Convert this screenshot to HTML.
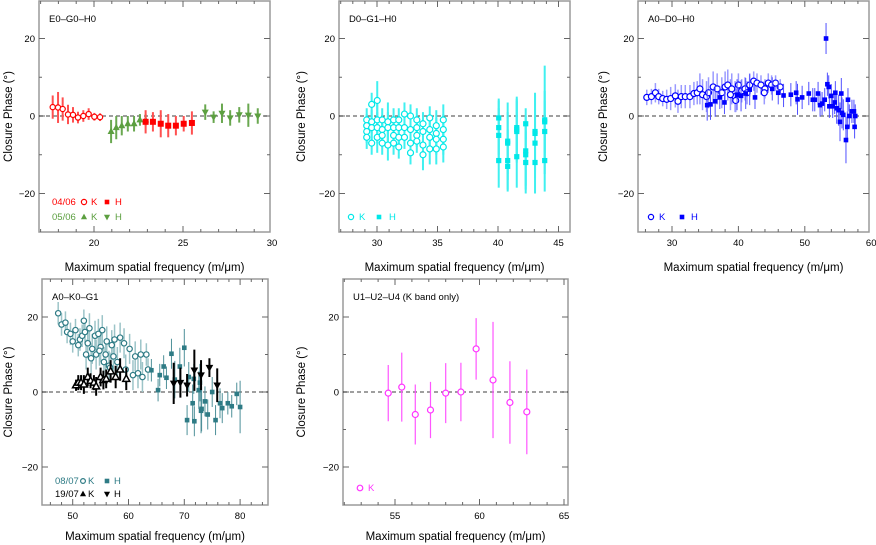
<!DOCTYPE html>
<html><head><meta charset="utf-8"><style>
html,body{margin:0;padding:0;background:#fff;width:876px;height:545px;overflow:hidden}
svg{display:block;font-family:"Liberation Sans",sans-serif}
</style></head><body>
<svg id="c" width="876" height="545" viewBox="0 0 876 545"></svg>
<script>
// ---- Panel 1 data (E0-G0-H0)
const p1KredX=[17.68,17.98,18.24,18.54,18.82,19.1,19.4,19.7,20.02,20.34];
const p1KredY=[2.3,2.2,1.8,0.4,0.3,-0.4,0,0.5,-0.2,-0.3];
const p1KredE=[3,4,3,2.5,2,1.5,1.5,1.5,1,1];
const p1HredX=[22.9,23.31,23.75,24.17,24.6,25.04,25.5];
const p1HredY=[-1.5,-1.5,-2,-2.5,-2.5,-2,-1.8];
const p1HredE=[3,2.5,3.5,3,2.5,2,3];
const p1KgrnX=[20.96,21.25,21.56,21.9,22.25,22.58,22.9];
const p1KgrnY=[-4,-3,-2.5,-2,-2,-1,-1];
const p1KgrnE=[3,3,2.5,2,2,1.5,1.5];
const p1HgrnX=[26.25,26.72,27.19,27.65,28.16,28.67,29.2];
const p1HgrnY=[1,-0.3,0.7,-0.5,0.3,0.2,0];
const p1HgrnE=[2,1.5,2.5,2,2,3,2];
// ---- Panel 2 data (D0-G1-H0)
const p2KX=[29.15,29.15,29.15,29.15,29.56,29.56,29.56,29.56,30.02,30.02,30.02,30.02,30.43,30.43,30.43,30.43,30.9,30.9,30.9,31.37,31.37,31.37,31.37,31.8,31.8,31.8,31.8,32.27,32.27,32.27,32.77,32.77,32.77,32.77,33.29,33.29,33.29,33.29,33.8,33.8,33.8,33.8,34.36,34.36,34.36,34.36,34.9,34.9,34.9,34.9,35.48,35.48,35.48,35.48];
const p2KY=[-1,-2.5,-4,-5.5,3,-1.5,-3,-7,4,-1,-3,-5.5,-1,-3.5,-5,-7,-1.5,-3,-7.5,-1,-3,-5,-7,-1,-3,-5.5,-8,0.5,-3,-5.5,0,-3.5,-7,-9.5,-1,-3,-5,-6.5,-2,-4,-7.5,-10,-0.5,-3.5,-5.5,-8.5,-2.5,-4.5,-6,-8.5,-1,-3.5,-6,-8];
const p2KE=[3,3,3,3,3,3,3,3,5,4,4,4,3,3,3,3,5,4,4,3,3,3,3,3,3,3,3,3,3,3,3,3,3,3,3,3,3,3,3,3,3,4,3,3,3,4,4,4,4,4,4,4,4,4];
const p2HX=[40.06,40.06,40.06,40.06,40.8,40.8,40.8,40.8,41.55,41.55,41.55,41.55,42.29,42.29,42.29,42.29,43.06,43.06,43.06,43.06,43.86,43.86,43.86,43.86];
const p2HY=[-0.5,-3,-5,-11.5,-6.5,-7,-11.5,-13,-3,-3.5,-4,-10.5,-2,-9,-10,-12,-4,-4.5,-7,-12,-1,-1.5,-4,-11.5];
const p2HE=[5,7,7,7,10,8,8,6,8,8,8,8,4,9,9,8,10,10,9,8,14,8,8,8];
// ---- Panel 3 data (A0-D0-H0)
const p3KX=[26.2,26.9,27.5,28,28.6,29.2,29.8,30.5,30.9,31.4,32,32.7,33.3,33.8,34.2,34.6,35.2,35.5,36.2,36.8,37.5,38,38.4,39,39.5,40,40.5,41,41.7,42.3,42.8,43.4,44,44.5,45,45.6,46.3,38.8,39.6,41.3,43.9];
const p3KY=[4.8,5,6,5,4.5,4.3,4.5,5.2,3.8,5,5,5,5.8,6,7,5.5,5,6,7.5,7,6,7.5,8,7,5,8,6.5,7,8,9,8.5,8,7,8.5,8,8.5,7.5,5.5,4,6,6];
const p3KE=[2,2,2.5,2,2,2.5,3,3,3,3,3,3,3,3,4,4,4,4,4,4,4,4,4,4,4,3,3,3,3,2.5,2.5,2.5,2.5,2.5,2.5,2,2,4,3,3,3];
const p3HX=[35.3,35.8,36.5,37.2,37.9,39.8,40.4,41.1,41.7,42.5,45.1,46,46.8,47.9,48.7,48.9,49.6,50.6,51.2,51.5,52,52.3,52.6,53,53.2,53.4,53.6,53.7,54,54.2,54.5,54.6,54.8,55.1,55.3,55.5,55.6,55.8,56.2,56.4,56.5,56.7,57.1,57.4,57.5,57.6];
const p3HY=[2.8,3,3.8,4.8,3.5,5.5,5.2,5.8,6.8,4.8,7,6,5.3,5.5,6,4.3,4.8,5.8,4.2,4.2,5.8,2.8,3.2,4.2,20,8.2,7.5,2.5,5.2,2.5,3.5,6,2,1.5,-1.5,5.8,0.8,0.3,-6.2,-2.8,4.2,0,1.2,1.2,-2.8,0];
const p3HE=[4,4,4,3,3,4,4,4,4,3,3,3,3,3,3,4,3,3,3,3,3,3,3,3,4,3,3,3,3,3,3,3,4,4,5,4,4,4,6,4,3,3,3,3,3,3];
// ---- Panel 4 data (A0-K0-G1)
const p4KX=[47.4,48,48.7,49,49.6,50,50.5,51,51.3,51.7,52,52.2,52.4,52.7,53,53.3,53.5,54,54.2,54.6,55,55.3,55.6,55.9,56.1,56.5,57,57.3,57.5,58,58.5,59.2,59.5,60.2,61.2,61.7,62.2,62.5,63.2,63.5,60.8,54.8,56.7];
const p4KY=[21,18,18.5,16,15.5,13.5,16.5,12.5,14,15,19,16,10,13,17,9,11.5,15,10,15.5,12,16.5,8,10,13.5,7,12.5,9.5,14,8,14.5,13,6,11.5,9.5,5,10,4,10,6,4.5,11,6.5];
const p4KE=[3,3,3,3,3,3,3,3,3,3,3,3,4,4,4,4,4,4,4,4,4,4,4,4,4,4,4,4,4,4,4,4,4,4,4,4,4,4,3,3,4,4,4];
const p4HX=[64.1,65.3,65.6,66.3,66.8,67.7,68.3,69.2,70,70.5,70.8,71.5,71.7,71.8,72.6,72.8,73,73.1,73.7,74.2,75,75.6,76.4,76.8,77.8,78.5,79.4,80];
const p4HY=[5.8,0.5,4.5,6.8,3.8,10.2,3.3,6.8,11.8,-7.5,4,-3,3.5,-7.8,0.5,2.5,-5,-4.5,-2.5,-6,0,-7.5,-3,-4.3,-3,-3.8,-0.5,-4];
const p4HE=[3,3,3,3,3,4,5,5,5,4,4,5,4,4,5,5,6,6,4,4,4,4,4,4,3,3,3,7];
const p4K2X=[50.6,51,51.5,52,52.7,53.2,53.8,54.2,55,55.5,56,56.8,57.7,58.5,59.6];
const p4K2Y=[1.8,2.5,2.5,2,4,3,2.5,1.5,4,3.2,3.5,5.5,4,6,3.5];
const p4K2E=[1.5,2,2,2.5,2.5,2,2,2.5,2.5,2.5,2.5,3,3,3,3];
const p4H2X=[68.1,69.3,70.5,71.8,73,74.5,75.9];
const p4H2Y=[2.3,2.5,1.8,5.8,4.5,6.5,1.8];
const p4H2E=[5.5,4,3,5.5,4,2.5,4.5];
// ---- Panel 5 data (U1-U2-U4)
const p5X=[54.6,55.4,56.2,57.1,58,58.9,59.8,60.8,61.8,62.8];
const p5Y=[-0.3,1.3,-6,-4.8,-0.3,0,11.5,3.2,-2.8,-5.3];
const p5E=[7.5,9.2,8,7.5,8,7.8,8.2,15.5,11,11.3];

const NS='http://www.w3.org/2000/svg';
const svg=document.getElementById('c');
function el(tag,attrs,parent,txt){const e=document.createElementNS(NS,tag);for(const k in attrs)e.setAttribute(k,attrs[k]);if(txt!==undefined)e.textContent=txt;(parent||svg).appendChild(e);return e;}

function panel(cfg){
  const g=el('g',{});
  
  
  const L=cfg.L,R=cfg.R,T=cfg.T,B=cfg.B;
  const xs=v=>cfg.xpx+(v-cfg.xv)*cfg.xppu;
  const ys=v=>cfg.y0+(-v)*cfg.yppu;
  cfg.xs=xs;cfg.ys=ys;
  const fr=el('rect',{x:L,y:T,width:R-L,height:B-T,fill:'none',stroke:'#9a9a9a','stroke-width':1.5},g);
  
  
  for(let v=-30;v<=30;v+=10){const y=ys(v);if(y<T+1||y>B-1)continue;const len=(v%20===0)?6:3;
    el('line',{x1:L,x2:L+len,y1:y,y2:y,stroke:'#666','stroke-width':1},g);
    el('line',{x1:R,x2:R-len,y1:y,y2:y,stroke:'#666','stroke-width':1},g);
    if(v%20===0){const t=el('text',{x:L-4,y:y+3.5,'font-size':9.5,'text-anchor':'end',fill:'#000'},g,v===0?'0':(v<0?'\u2212'+(-v):''+v));
      }
  }
  const mi0=Math.ceil(cfg.xmin/cfg.minor);
  for(let k=mi0;k*cfg.minor<=cfg.xmax+1e-6;k++){const v=k*cfg.minor;const x=xs(v);if(x<L+1||x>R-1)continue;
    const maj=Math.abs(v/cfg.major-Math.round(v/cfg.major))<1e-6;const len=maj?6:3;
    el('line',{x1:x,x2:x,y1:B,y2:B-len,stroke:'#666','stroke-width':1},g);
    el('line',{x1:x,x2:x,y1:T,y2:T+len,stroke:'#666','stroke-width':1},g);
  }
  const ma0=Math.ceil(cfg.xmin/cfg.major);
  for(let k=ma0;k*cfg.major<=cfg.xmax+1e-6;k++){const v=k*cfg.major;const x=xs(v);if(x<L-3||x>R+8)continue;
    const t=el('text',{x:x,y:B+14,'font-size':9.5,'text-anchor':'middle'},g,String(v));
    }
  const z=el('line',{x1:L,x2:R,y1:ys(0),y2:ys(0),stroke:'#000','stroke-width':0.8,'stroke-dasharray':'4,3'},g);
  
  const lab=el('text',{x:L+10,y:T+21,'font-size':9.5},g,cfg.label);
  
  const xt=el('text',{x:(L+R)/2,y:cfg.xty,'font-size':11.5,'text-anchor':'middle'},g,'Maximum spatial frequency  (m/\u03bcm)');
  
  const yt=el('text',{x:0,y:0,'font-size':11.5,'text-anchor':'middle',transform:`translate(${cfg.ytx},${(T+B)/2}) rotate(-90)`},g,'Closure Phase (\u00b0)');
  
  cfg.g=g;return cfg;
}
function marker(g,type,x,y,col,s){
  let m;
  if(type==='o')m=el('circle',{cx:x,cy:y,r:s,fill:'#fff',stroke:col,'stroke-width':1.2},g);
  else if(type==='s')m=el('rect',{x:x-s,y:y-s,width:2*s,height:2*s,fill:col},g);
  else if(type==='^')m=el('polygon',{points:`${x},${y-s*1.2} ${x-s*1.1},${y+s*0.8} ${x+s*1.1},${y+s*0.8}`,fill:col},g);
  else if(type==='^o')m=el('polygon',{points:`${x},${y-s*1.2} ${x-s*1.1},${y+s*0.8} ${x+s*1.1},${y+s*0.8}`,fill:'#fff',stroke:col,'stroke-width':1.5},g);
  else m=el('polygon',{points:`${x},${y+s*1.2} ${x-s*1.1},${y-s*0.8} ${x+s*1.1},${y-s*0.8}`,fill:col},g);
  return m;
}
function series(p,name,X,Y,E,type,col,ecol,ew,s){
  const g=el('g',{},p.g);
  
  
  for(let i=0;i<X.length;i++){const x=p.xs(X[i]);
    const b=el('line',{x1:x,x2:x,y1:p.ys(Y[i]-E[i]),y2:p.ys(Y[i]+E[i]),stroke:ecol,'stroke-width':ew},g);
    }
  for(let i=0;i<X.length;i++){const m=marker(g,type,p.xs(X[i]),p.ys(Y[i]),col,s);
    }
}
function legText(p,x,y,t,col){const e=el('text',{x:x,y:y,'font-size':9.5,fill:col},p.g,t);
  }
function legMark(p,type,x,y,col,s){const m=marker(p.g,type,x,y,col,s);
  }

const topY={y0:116,yppu:3.875,T:1,B:232,xty:271};
const botY={y0:392,yppu:3.75,T:279,B:505,xty:540};
const P1=panel(Object.assign({name:'panel-e0-g0-h0',label:'E0\u2013G0\u2013H0',L:39,R:270,xpx:94,xv:20,xppu:17.8,xmin:17,xmax:30,major:5,minor:1,ytx:12},topY));
series(P1,'series-0406-k',p1KredX,p1KredY,p1KredE,'o','#ff0000','#ff5050',2,2.6);
series(P1,'series-0506-k',p1KgrnX,p1KgrnY,p1KgrnE,'^','#5c9f40','#6aa850',2,3.2);
series(P1,'series-0406-h',p1HredX,p1HredY,p1HredE,'s','#ff0000','#ff5050',2,3);
series(P1,'series-0506-h',p1HgrnX,p1HgrnY,p1HgrnE,'v','#5c9f40','#6aa850',2,3.2);
legText(P1,52,205,'04/06','#ff0000');legMark(P1,'o',84,202,'#ff0000',2.6);legText(P1,91,205,'K','#ff0000');legMark(P1,'s',107,202,'#ff0000',2.3);legText(P1,115,205,'H','#ff0000');
legText(P1,52,220,'05/06','#5c9f40');legMark(P1,'^',84,217,'#5c9f40',2.8);legText(P1,91,220,'K','#5c9f40');legMark(P1,'v',107,217,'#5c9f40',2.8);legText(P1,115,220,'H','#5c9f40');
const P2=panel(Object.assign({name:'panel-d0-g1-h0',label:'D0\u2013G1\u2013H0',L:339,R:570,xpx:377,xv:30,xppu:12.1,xmin:27,xmax:46,major:5,minor:1,ytx:305},topY));
series(P2,'series-k',p2KX,p2KY,p2KE,'o','#00e8e8','#40f0f0',2,3);
series(P2,'series-h',p2HX,p2HY,p2HE,'s','#00e8e8','#40f0f0',2,2.6);
legMark(P2,'o',351,217,'#00e8e8',2.6);legText(P2,359,220,'K','#00e8e8');legMark(P2,'s',379,217,'#00e8e8',2.3);legText(P2,389,220,'H','#00e8e8');
const P3=panel(Object.assign({name:'panel-a0-d0-h0',label:'A0\u2013D0\u2013H0',L:638,R:869,xpx:672,xv:30,xppu:6.64,xmin:26,xmax:60,major:10,minor:2,ytx:607},topY));
series(P3,'series-k',p3KX,p3KY,p3KE,'o','#0000ff','#9a9aff',1.5,3);
series(P3,'series-h',p3HX,p3HY,p3HE,'s','#0000ff','#5050ff',1,2.3);
legMark(P3,'o',651,217,'#0000ff',2.6);legText(P3,659,220,'K','#0000ff');legMark(P3,'s',682,217,'#0000ff',2.3);legText(P3,691,220,'H','#0000ff');
const P4=panel(Object.assign({name:'panel-a0-k0-g1',label:'A0\u2013K0\u2013G1',L:42,R:268,xpx:72.7,xv:50,xppu:5.58,xmin:46,xmax:84,major:10,minor:2,ytx:12},botY));
series(P4,'series-0807-k',p4KX,p4KY,p4KE,'o','#2e7b85','#9cc4c8',1.5,2.7);
series(P4,'series-0807-h',p4HX,p4HY,p4HE,'s','#2e7b85','#4e9099',1,2.3);
series(P4,'series-1907-k',p4K2X,p4K2Y,p4K2E,'^o','#000','#000',2,3.2);
series(P4,'series-1907-h',p4H2X,p4H2Y,p4H2E,'v','#000','#000',2,3.5);
legText(P4,55,484,'08/07','#2e7b85');legMark(P4,'o',83,481,'#2e7b85',2.4);legText(P4,88,484,'K','#2e7b85');legMark(P4,'s',107,481,'#2e7b85',2.3);legText(P4,114,484,'H','#2e7b85');
legText(P4,55,497,'19/07','#000');legMark(P4,'^',83,494,'#000',2.8);legText(P4,88,497,'K','#000');legMark(P4,'v',107,494,'#000',2.8);legText(P4,114,497,'H','#000');
const P5=panel(Object.assign({name:'panel-u1-u2-u4',label:'U1\u2013U2\u2013U4 (K band only)',L:343,R:568,xpx:395,xv:55,xppu:16.9,xmin:52,xmax:65,major:5,minor:1,ytx:305},botY));
series(P5,'series-k',p5X,p5Y,p5E,'o','#ff33ff','#ff55ff',1.2,3);
legMark(P5,'o',360,488,'#ff33ff',2.8);legText(P5,368,491,'K','#ff33ff');
</script>
</body></html>
